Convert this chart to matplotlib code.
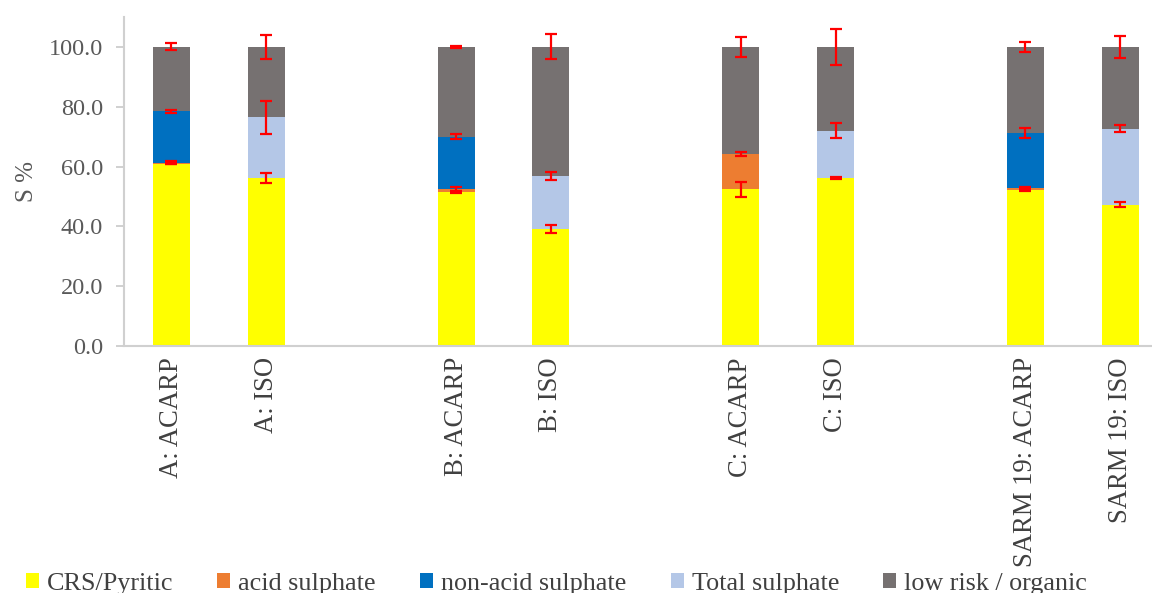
import matplotlib
matplotlib.use("Agg")
import matplotlib.pyplot as plt
import numpy as np

plt.rcParams['font.family'] = ['Liberation Serif', 'DejaVu Serif']

# samples and their slot on the category axis (empty slots separate the pairs)
samples = ['A: ACARP', 'A: ISO', 'B: ACARP', 'B: ISO',
           'C: ACARP', 'C: ISO', 'SARM 19: ACARP', 'SARM 19: ISO']
slots = [0, 1, 3, 4, 6, 7, 9, 10]

# S fractions, %
crs_pyritic   = [61.0, 56.2, 51.4, 39.0, 52.4, 56.2, 52.2, 47.2]
acid_sulph    = [0.3, 0.0, 1.0, 0.0, 11.8, 0.0, 0.6, 0.0]
nonacid_sulph = [17.2, 0.0, 17.6, 0.0, 0.0, 0.0, 18.3, 0.0]
total_sulph   = [0.0, 20.3, 0.0, 17.9, 0.0, 15.8, 0.0, 25.5]
low_risk      = [21.5, 23.5, 30.0, 43.1, 35.8, 28.0, 28.9, 27.3]

# standard deviations
crs_err     = [0.3, 1.7, 0.3, 1.3, 2.6, 0.4, 0.3, 0.8]
acid_err    = [0.4, 0.0, 0.6, 0.0, 0.6, 0.0, 0.4, 0.0]
nonacid_err = [0.5, 0.0, 0.9, 0.0, 0.0, 0.0, 1.7, 0.0]
total_err   = [0.0, 5.5, 0.0, 1.4, 0.0, 2.6, 0.0, 1.3]
low_err     = [1.2, 4.0, 0.3, 4.2, 3.4, 6.1, 1.7, 3.6]

series = [
    ('CRS/Pyritic', crs_pyritic, crs_err, '#FFFF00'),
    ('acid sulphate', acid_sulph, acid_err, '#ED7D31'),
    ('non-acid sulphate', nonacid_sulph, nonacid_err, '#0070C0'),
    ('Total sulphate', total_sulph, total_err, '#B4C7E7'),
    ('low risk / organic', low_risk, low_err, '#767171'),
]

fig = plt.figure(figsize=(11.52, 5.93), dpi=100)
ax = fig.add_axes([124 / 1152, 247 / 593, 1 - 124 / 1152, 329 / 593])

x = np.array(slots, dtype=float)
bottom = np.zeros(len(samples))
for name, vals, errs, col in series:
    vals = np.array(vals)
    errs = np.array(errs)
    ax.bar(x, vals, width=0.39, bottom=bottom, color=col, label=name,
           edgecolor='none', zorder=2)
    top = bottom + vals
    m = errs > 0
    ax.errorbar(x[m], top[m], yerr=errs[m], fmt='none', ecolor='#FF0000',
                elinewidth=1.6, capsize=4.2, capthick=1.6, zorder=3)
    bottom = top

ax.set_xlim(-0.5, (1152 - 171.3) / 94.9)
ax.set_ylim(0, 110)
ax.set_yticks(np.arange(0, 101, 20))
ax.set_yticklabels([f'{v:.1f}' for v in np.arange(0, 101, 20)])
ax.set_xticks(slots)
ax.set_xticklabels(samples, rotation=90, va='top', ha='center')

for s in ['top', 'right']:
    ax.spines[s].set_visible(False)
for s in ['left', 'bottom']:
    ax.spines[s].set_color('#D0D0D0')
    ax.spines[s].set_linewidth(1.5)

ax.tick_params(axis='y', direction='out', length=6, width=1.2, color='#C8C8C8',
               labelsize=17.5, labelcolor='#595959', pad=9)
ax.tick_params(axis='x', length=0, labelsize=19.2, labelcolor='#404040', pad=8)

ax.set_ylabel('S %', fontsize=18, color='#595959', labelpad=8)

handles, labels = ax.get_legend_handles_labels()
fig.legend(handles[:5], labels[:5], loc='center', ncol=5, frameon=False,
           bbox_to_anchor=(0.483, 0.016), fontsize=18.8, handlelength=0.5,
           handleheight=0.5, handletextpad=0.3, columnspacing=1.7,
           labelcolor='#404040')

fig.savefig('out.png', dpi=100)
